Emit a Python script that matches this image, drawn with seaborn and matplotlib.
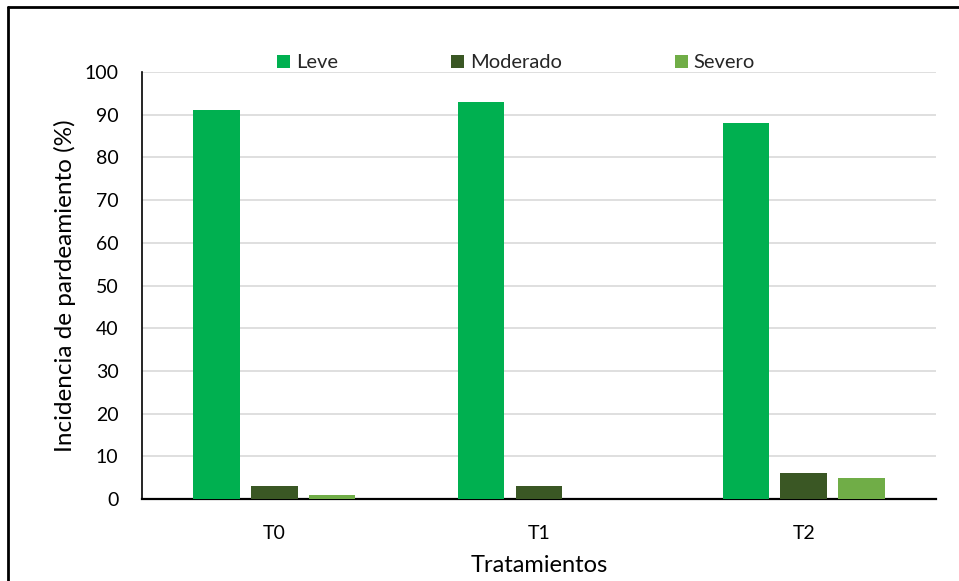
import matplotlib
matplotlib.use("Agg")
import matplotlib.pyplot as plt
from matplotlib.lines import Line2D
from matplotlib.patches import Patch
import seaborn as sns
import pandas as pd

tratamientos = ["T0", "T1", "T2"]
niveles = ["Leve", "Moderado", "Severo"]
leve = [91, 93, 88]
moderado = [3, 3, 6]
severo = [1, 0, 5]
colores = ["#00B050", "#3A5724", "#70AD47"]
yticks = [0, 10, 20, 30, 40, 50, 60, 70, 80, 90, 100]

df = pd.DataFrame({
    "Tratamiento": tratamientos * 3,
    "Nivel": [n for n in niveles for _ in tratamientos],
    "Incidencia": leve + moderado + severo,
})

sns.set_theme(style="white")
plt.rcParams["font.family"] = ["Lato", "DejaVu Sans"]

fig = plt.figure(figsize=(9.59, 5.81), dpi=100)
ax = fig.add_axes([0.1481, 0.1411, 0.976 - 0.1481, 0.8761 - 0.1411])

sns.barplot(data=df, x="Tratamiento", y="Incidencia", hue="Nivel",
            hue_order=niveles, palette=colores, width=0.657, gap=0.2,
            saturation=1, linewidth=0, edgecolor="none",
            ax=ax, legend=False, zorder=3)

ax.set_ylim(0, 100)
ax.set_yticks(yticks)
ax.set_xlim(-0.5, 2.5)
ax.yaxis.grid(True, color="#D9D9D9", linewidth=1.2, zorder=0)
ax.set_axisbelow(True)
ax.tick_params(axis="both", length=0, labelsize=14, colors="black")
ax.tick_params(axis="x", pad=19)
ax.tick_params(axis="y", pad=17)
for s in ["top", "right"]:
    ax.spines[s].set_visible(False)
ax.spines["left"].set_color("black")
ax.spines["left"].set_linewidth(1.2)
ax.spines["bottom"].set_color("black")
ax.spines["bottom"].set_linewidth(1.6)

ax.set_xlabel("Tratamientos", fontsize=17, color="black", labelpad=9)
ax.set_ylabel("Incidencia de pardeamiento (%)", fontsize=17.5, color="black", labelpad=6)

handles = [Patch(facecolor=c, edgecolor="none") for c in colores]
fig.legend(handles, niveles, loc="center", bbox_to_anchor=(0.538, 1 - 63 / 581),
           ncol=3, frameon=False, fontsize=14.5, handlelength=0.65, handleheight=0.65,
           handletextpad=0.3, columnspacing=5.6, borderpad=0)

# outer frame lines along the left and top edges
fig.add_artist(Line2D([8 / 959, 8 / 959], [0, 1 - 7 / 581], transform=fig.transFigure,
                      color="black", linewidth=2))
fig.add_artist(Line2D([8 / 959, 1], [1 - 7 / 581, 1 - 7 / 581], transform=fig.transFigure,
                      color="black", linewidth=2))

fig.savefig("out.png", dpi=100, facecolor="white")
